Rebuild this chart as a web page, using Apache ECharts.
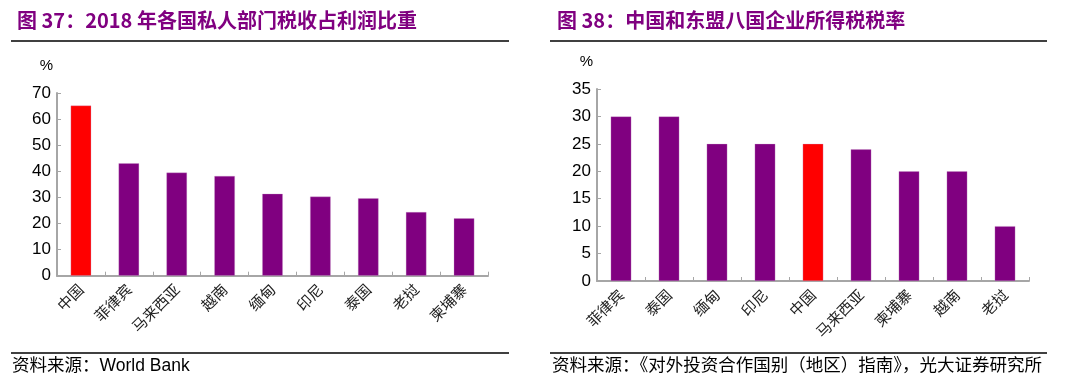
<!DOCTYPE html>
<html><head><meta charset="utf-8">
<script src="https://cdn.jsdelivr.net/npm/echarts@6/dist/echarts.min.js"></script>
<style>html,body{margin:0;padding:0;background:#fff}#c{width:1070px;height:387px}</style>
</head><body><div id="c"></div>
<script>
const leftCategories = ['中国','菲律宾','马来西亚','越南','缅甸','印尼','泰国','老挝','柬埔寨'];
const leftValues = [65.2, 43.1, 39.5, 38.2, 31.4, 30.3, 29.7, 24.4, 22.0];
const leftHighlight = '中国';
const rightCategories = ['菲律宾','泰国','缅甸','印尼','中国','马来西亚','柬埔寨','越南','老挝'];
const rightValues = [30, 30, 25, 25, 25, 24, 20, 20, 10];
const rightHighlight = '中国';
const leftTitle = '图 37：2018 年各国私人部门税收占利润比重';
const rightTitle = '图 38：中国和东盟八国企业所得税税率';
const leftSource = '资料来源：World Bank';
const rightSource = '资料来源：《对外投资合作国别（地区）指南》，光大证券研究所';

const PURPLE = '#800080', RED = '#ff0000', AXIS = '#a6a6a6';
const chart = echarts.init(document.getElementById('c'));
function colored(cats, vals, hi) {
  return vals.map((v, i) => ({ value: v, itemStyle: { color: cats[i] === hi ? RED : PURPLE } }));
}
const axisLabelY = { color: '#000', fontSize: 17, fontFamily: 'Liberation Sans, Arial', margin: 6 };
const axisLabelX = { color: '#222', fontSize: 15, fontFamily: 'Noto Sans CJK SC', rotate: 45, margin: 11, interval: 0 };
function xAx(cats, gi) {
  return { type: 'category', gridIndex: gi, data: cats,
    axisLine: { lineStyle: { color: AXIS, width: 2 } },
    axisTick: { show: true, inside: true, length: 4, lineStyle: { color: AXIS } },
    axisLabel: axisLabelX };
}
function yAx(gi, max, interval) {
  return { type: 'value', gridIndex: gi, min: 0, max: max, interval: interval,
    name: '%', nameLocation: 'end', nameGap: 20,
    nameTextStyle: { color: '#000', fontSize: 15, fontFamily: 'Liberation Sans, Arial', align: 'right', padding: [0, 4, 0, 0] },
    axisLine: { show: true, lineStyle: { color: AXIS, width: 2 } },
    axisTick: { show: true, inside: true, length: 4, lineStyle: { color: AXIS } },
    splitLine: { show: false },
    axisLabel: axisLabelY };
}
const titleStyle = { color: '#800080', fontSize: 20, fontWeight: 'bold', fontFamily: 'Noto Sans CJK SC' };
const srcStyle = { fill: '#000', fontSize: 17.5, fontFamily: 'Liberation Sans, Noto Sans CJK SC' };
chart.setOption({
  animation: false,
  title: [
    { text: leftTitle, left: 12, top: 5, textStyle: titleStyle },
    { text: rightTitle, left: 552, top: 5, textStyle: titleStyle }
  ],
  grid: [
    { left: 57, right: 1070 - 488, top: 93, height: 182.7 },
    { left: 597, right: 1070 - 1029, top: 89, height: 192 }
  ],
  xAxis: [xAx(leftCategories, 0), xAx(rightCategories, 1)],
  yAxis: [yAx(0, 70, 10), yAx(1, 35, 5)],
  series: [
    { type: 'bar', xAxisIndex: 0, yAxisIndex: 0, barWidth: '43%', data: colored(leftCategories, leftValues, leftHighlight),
      itemStyle: { borderColor: 'rgba(200,150,200,0.6)', borderWidth: 0.5 } },
    { type: 'bar', xAxisIndex: 1, yAxisIndex: 1, barWidth: '43%', data: colored(rightCategories, rightValues, rightHighlight),
      itemStyle: { borderColor: 'rgba(200,150,200,0.6)', borderWidth: 0.5 } }
  ],
  graphic: [
    { type: 'line', shape: { x1: 11, y1: 41, x2: 509, y2: 41 }, style: { stroke: '#000', lineWidth: 1.5 } },
    { type: 'line', shape: { x1: 550, y1: 41, x2: 1047, y2: 41 }, style: { stroke: '#000', lineWidth: 1.5 } },
    { type: 'line', shape: { x1: 11, y1: 353, x2: 509, y2: 353 }, style: { stroke: '#000', lineWidth: 1.5 } },
    { type: 'line', shape: { x1: 550, y1: 353, x2: 1047, y2: 353 }, style: { stroke: '#000', lineWidth: 1.5 } },
    { type: 'text', left: 12, top: 357, style: Object.assign({ text: leftSource }, srcStyle) },
    { type: 'text', left: 552, top: 357, style: Object.assign({ text: rightSource }, srcStyle) }
  ]
});
</script></body></html>
